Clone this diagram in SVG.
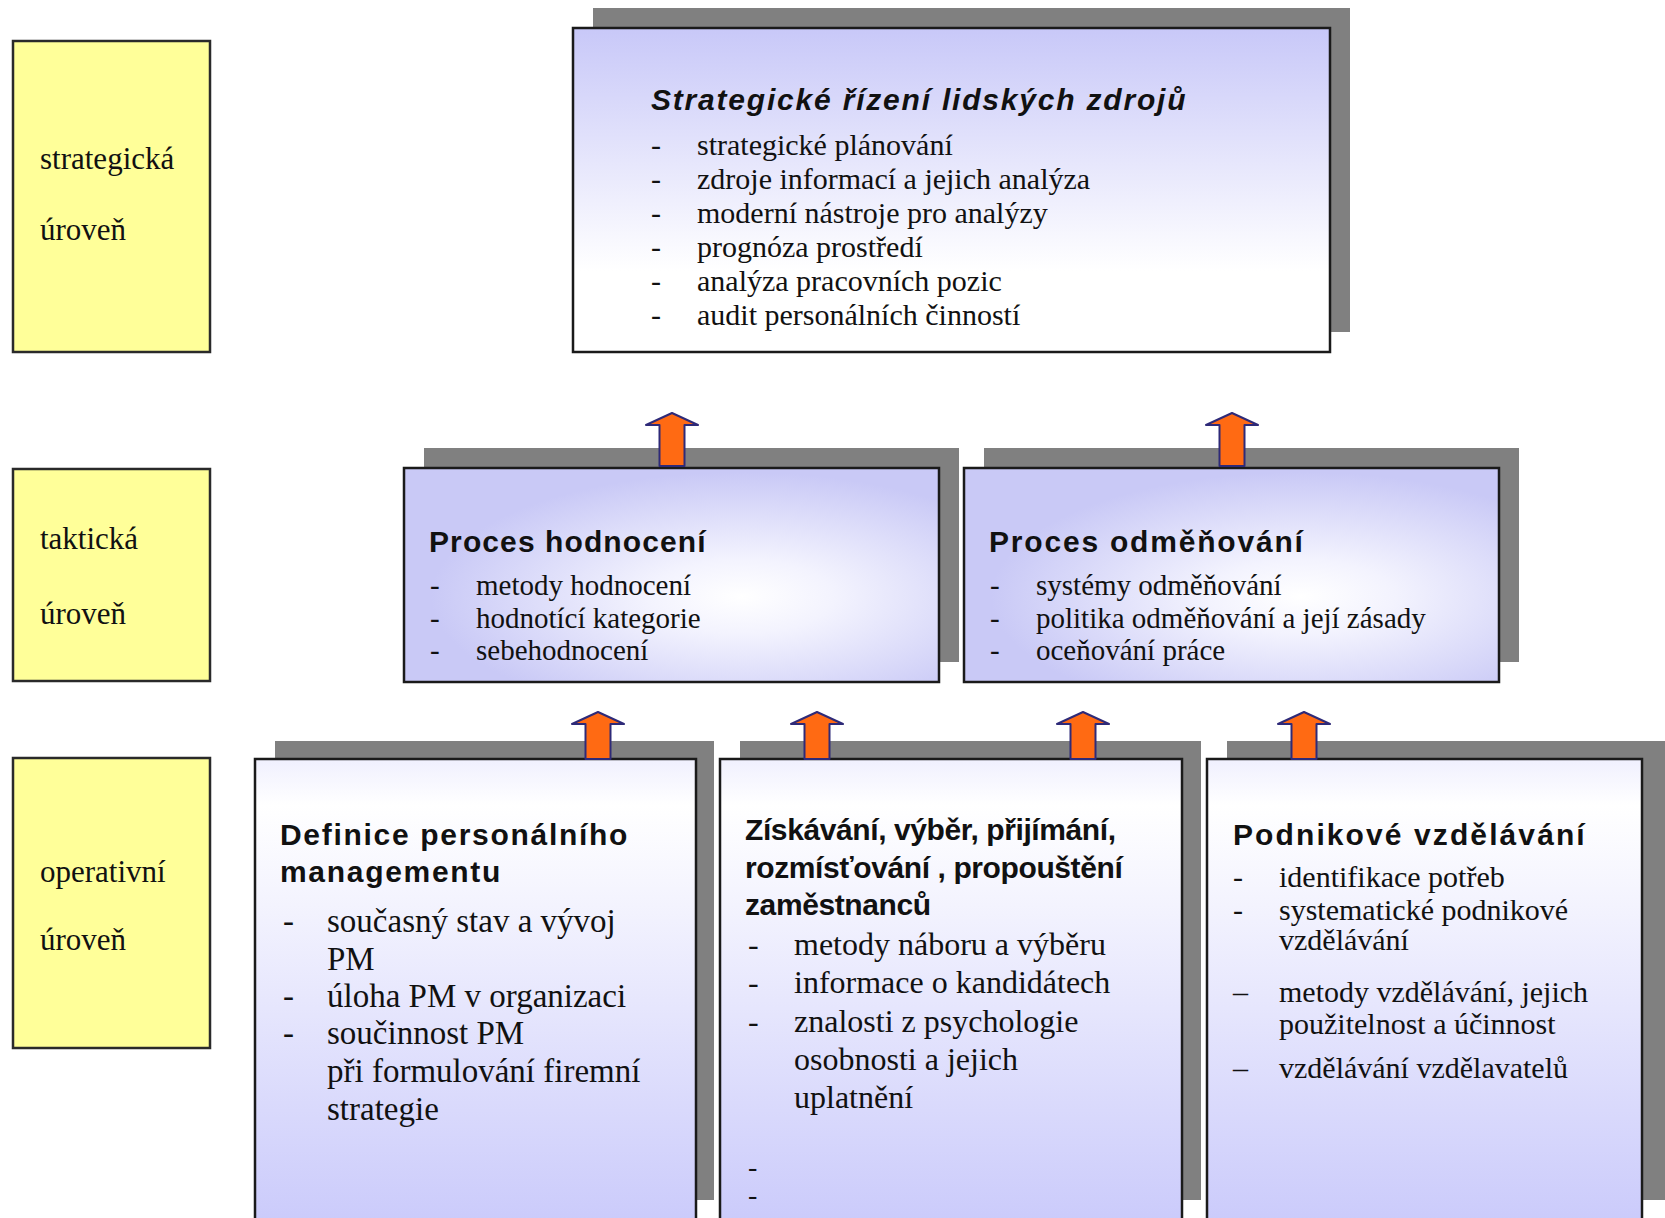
<svg xmlns="http://www.w3.org/2000/svg" width="1665" height="1218" viewBox="0 0 1665 1218">
  <defs>
    <linearGradient id="gS" x1="0" y1="0" x2="0" y2="1">
      <stop offset="0" stop-color="#c8c8f8"/>
      <stop offset="0.75" stop-color="#ffffff"/>
      <stop offset="1" stop-color="#ffffff"/>
    </linearGradient>
    <radialGradient id="gT" cx="0.63" cy="0.6" r="0.58" fx="0.63" fy="0.6">
      <stop offset="0" stop-color="#ffffff"/>
      <stop offset="0.3" stop-color="#f3f3fe"/>
      <stop offset="1" stop-color="#c9c9f6"/>
    </radialGradient>
    <linearGradient id="gB" x1="0" y1="0" x2="0" y2="1">
      <stop offset="0" stop-color="#f0f0fe"/>
      <stop offset="0.1" stop-color="#ffffff"/>
      <stop offset="0.3" stop-color="#f4f4fe"/>
      <stop offset="1" stop-color="#cbcbfb"/>
    </linearGradient>
    <style>
      .lvl { fill: #ffff99; stroke: #2a2a2a; stroke-width: 2.5; }
      .shadow { fill: #808080; }
      .box { stroke: #1a1a1a; stroke-width: 2.5; }
      .lbl { font-family: "Liberation Serif", serif; font-size: 31px; fill: #111; }
      .ttl { font-family: "Liberation Sans", Arial, sans-serif; font-weight: bold; font-size: 30px; fill: #111; }
      .sttl { font-family: "Liberation Sans", Arial, sans-serif; font-weight: bold; font-style: italic; font-size: 30px; letter-spacing: 1.8px; fill: #111; }
      .b30 { font-family: "Liberation Serif", serif; font-size: 30px; fill: #111; }
      .b29 { font-family: "Liberation Serif", serif; font-size: 29px; fill: #111; }
      .b33 { font-family: "Liberation Serif", serif; font-size: 33px; fill: #111; }
      .b32 { font-family: "Liberation Serif", serif; font-size: 32px; fill: #111; }
      .arr { fill: #ff6a13; stroke: #2e2a78; stroke-width: 2; stroke-linejoin: round; }
    </style>
  </defs>

  <rect x="0" y="0" width="1665" height="1218" fill="#ffffff"/>

  <g id="level-strategic">
    <rect class="lvl" x="13" y="41" width="197" height="311"/>
    <text class="lbl" x="40" y="169">strategická</text>
    <text class="lbl" x="40" y="240">úroveň</text>
  </g>
  <g id="level-tactical">
    <rect class="lvl" x="13" y="469" width="197" height="212"/>
    <text class="lbl" x="40" y="549">taktická</text>
    <text class="lbl" x="40" y="624">úroveň</text>
  </g>
  <g id="level-operative">
    <rect class="lvl" x="13" y="758" width="197" height="290"/>
    <text class="lbl" x="40" y="882">operativní</text>
    <text class="lbl" x="40" y="950">úroveň</text>
  </g>

  <g id="strategic-hr">
    <rect class="shadow" x="593" y="8" width="757" height="324"/>
    <rect class="box" x="573" y="28" width="757" height="324" fill="url(#gS)"/>
    <text class="sttl" x="651" y="110">Strategické řízení lidských zdrojů</text>
    <g class="b30">
      <text x="651" y="155">-</text><text x="697" y="155">strategické plánování</text>
      <text x="651" y="189">-</text><text x="697" y="189">zdroje informací a jejich analýza</text>
      <text x="651" y="223">-</text><text x="697" y="223">moderní nástroje pro analýzy</text>
      <text x="651" y="257">-</text><text x="697" y="257">prognóza prostředí</text>
      <text x="651" y="291">-</text><text x="697" y="291">analýza pracovních pozic</text>
      <text x="651" y="325">-</text><text x="697" y="325">audit personálních činností</text>
    </g>
  </g>

  <g id="proces-hodnoceni">
    <rect class="shadow" x="424" y="448" width="535" height="214"/>
    <rect class="box" x="404" y="468" width="535" height="214" fill="url(#gT)"/>
    <text class="ttl" x="429" y="552" letter-spacing="1.1">Proces hodnocení</text>
    <g class="b29">
      <text x="430" y="595">-</text><text x="476" y="595">metody hodnocení</text>
      <text x="430" y="628">-</text><text x="476" y="628">hodnotící kategorie</text>
      <text x="430" y="660">-</text><text x="476" y="660">sebehodnocení</text>
    </g>
  </g>

  <g id="proces-odmenovani">
    <rect class="shadow" x="984" y="448" width="535" height="214"/>
    <rect class="box" x="964" y="468" width="535" height="214" fill="url(#gT)"/>
    <text class="ttl" x="989" y="552" letter-spacing="1.8">Proces odměňování</text>
    <g class="b29">
      <text x="990" y="595">-</text><text x="1036" y="595">systémy odměňování</text>
      <text x="990" y="628">-</text><text x="1036" y="628">politika odměňování a její zásady</text>
      <text x="990" y="660">-</text><text x="1036" y="660">oceňování práce</text>
    </g>
  </g>

  <g id="definice-pm">
    <rect class="shadow" x="275" y="741" width="439" height="459"/>
    <rect class="box" x="255" y="759" width="441" height="462" fill="url(#gB)"/>
    <text class="ttl" x="280" y="845" letter-spacing="1.7">Definice personálního</text>
    <text class="ttl" x="280" y="882" letter-spacing="1.7">managementu</text>
    <g class="b33">
      <text x="283" y="932">-</text><text x="327" y="932">současný stav a vývoj</text>
      <text x="327" y="970">PM</text>
      <text x="283" y="1007">-</text><text x="327" y="1007">úloha PM v organizaci</text>
      <text x="283" y="1044">-</text><text x="327" y="1044">součinnost PM</text>
      <text x="327" y="1082">při formulování firemní</text>
      <text x="327" y="1120">strategie</text>
    </g>
  </g>

  <g id="ziskavani">
    <rect class="shadow" x="740" y="741" width="461" height="459"/>
    <rect class="box" x="720" y="759" width="462" height="462" fill="url(#gB)"/>
    <text class="ttl" x="745" y="840" font-size="31" letter-spacing="-0.4">Získávání, výběr, přijímání,</text>
    <text class="ttl" x="745" y="878" font-size="31" letter-spacing="-0.4">rozmísťování , propouštění</text>
    <text class="ttl" x="745" y="915" font-size="31" letter-spacing="-0.4">zaměstnanců</text>
    <g class="b32">
      <text x="748" y="955">-</text><text x="794" y="955">metody náboru a výběru</text>
      <text x="748" y="993">-</text><text x="794" y="993">informace o kandidátech</text>
      <text x="748" y="1032">-</text><text x="794" y="1032">znalosti z psychologie</text>
      <text x="794" y="1070">osobnosti a jejich</text>
      <text x="794" y="1108">uplatnění</text>
      <text font-size="28"><tspan x="748" y="1176">-</tspan><tspan x="748" y="1204">-</tspan></text>
    </g>
  </g>

  <g id="podnikove-vzdelavani">
    <rect class="shadow" x="1227" y="741" width="438" height="459"/>
    <rect class="box" x="1207" y="759" width="435" height="462" fill="url(#gB)"/>
    <text class="ttl" x="1233" y="845" letter-spacing="2.1">Podnikové vzdělávání</text>
    <g class="b30">
      <text x="1233" y="887">-</text><text x="1279" y="887">identifikace potřeb</text>
      <text x="1233" y="920">-</text><text x="1279" y="920">systematické podnikové</text>
      <text x="1279" y="950">vzdělávání</text>
      <text x="1233" y="1002">–</text><text x="1279" y="1002">metody vzdělávání, jejich</text>
      <text x="1279" y="1034">použitelnost a účinnost</text>
      <text x="1233" y="1078">–</text><text x="1279" y="1078">vzdělávání vzdělavatelů</text>
    </g>
  </g>

  <g id="connectors">
    <path class="arr" d="M672,413 L698,425 L684.5,425 L684.5,466 L659.5,466 L659.5,425 L646,425 Z"/>
    <path class="arr" d="M1232,413 L1258,425 L1244.5,425 L1244.5,466 L1219.5,466 L1219.5,425 L1206,425 Z"/>
    <path class="arr" d="M598,712 L624,724 L610.5,724 L610.5,759 L585.5,759 L585.5,724 L572,724 Z"/>
    <path class="arr" d="M817,712 L843,724 L829.5,724 L829.5,759 L804.5,759 L804.5,724 L791,724 Z"/>
    <path class="arr" d="M1083,712 L1109,724 L1095.5,724 L1095.5,759 L1070.5,759 L1070.5,724 L1057,724 Z"/>
    <path class="arr" d="M1304,712 L1330,724 L1316.5,724 L1316.5,759 L1291.5,759 L1291.5,724 L1278,724 Z"/>
  </g>
</svg>
